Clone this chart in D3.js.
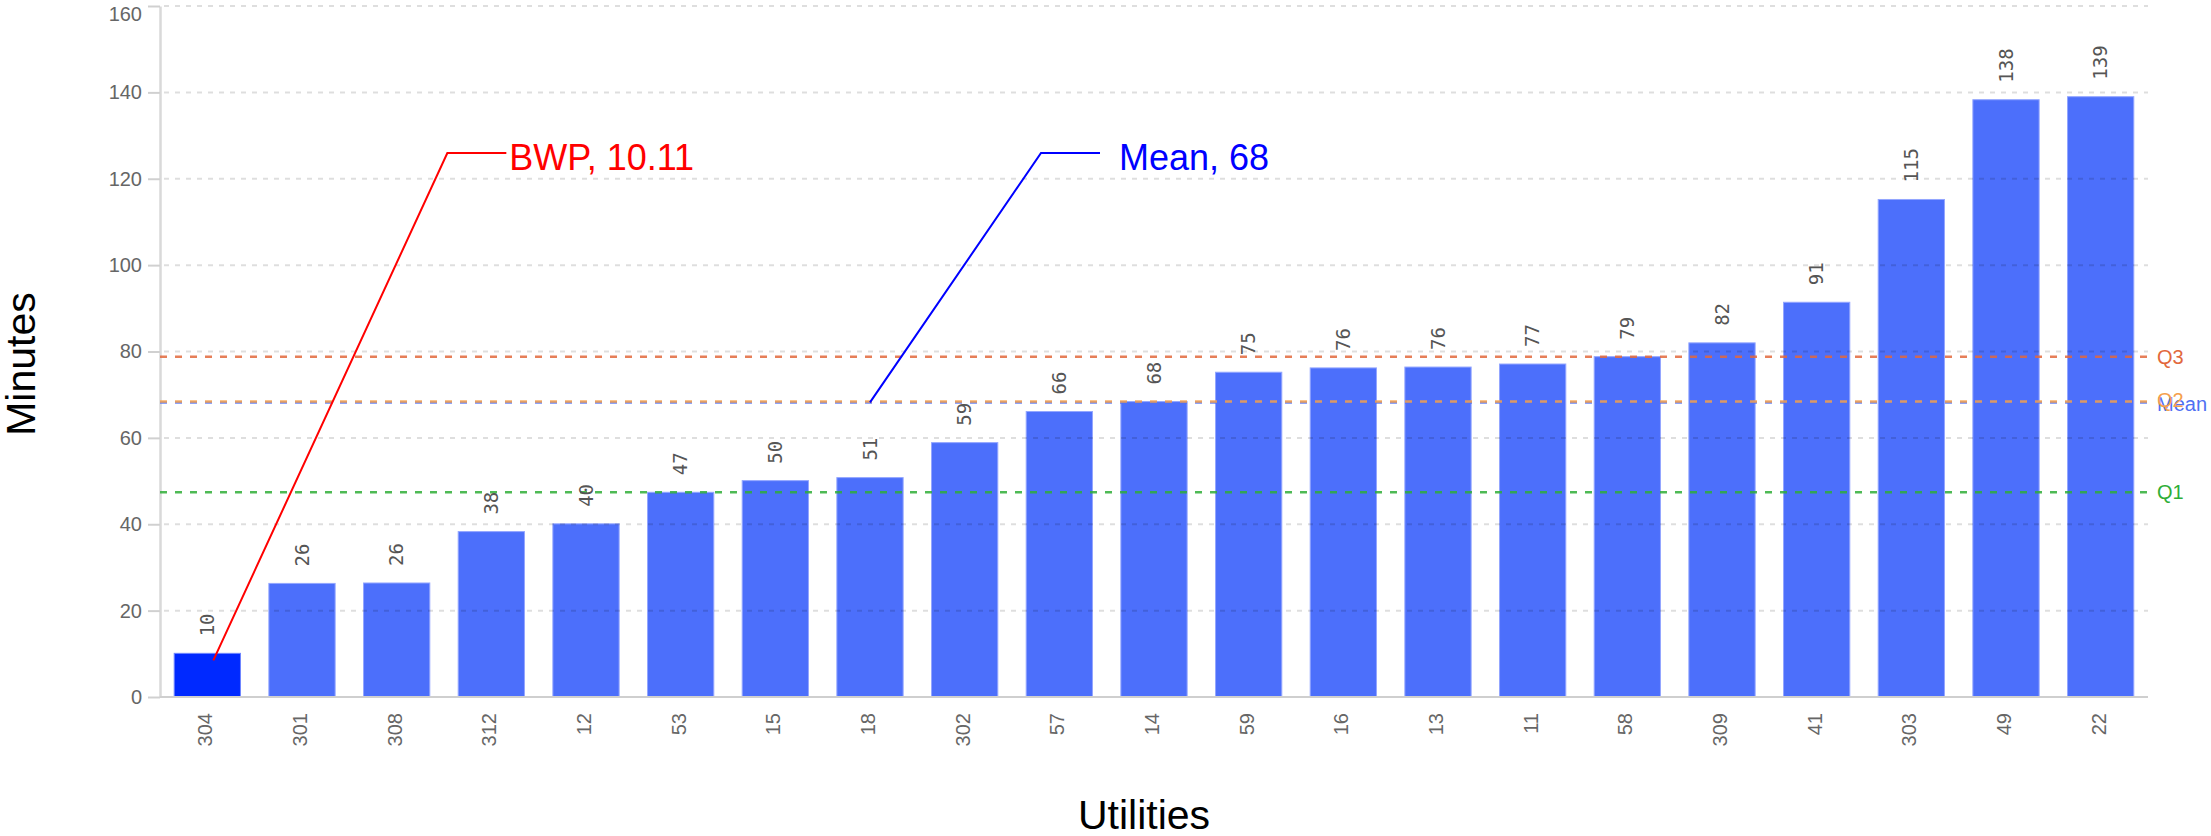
<!DOCTYPE html>
<html>
<head>
<meta charset="utf-8">
<script src="https://cdn.jsdelivr.net/npm/d3@7"></script>
<style>
  html, body { margin: 0; padding: 0; background: #fff; }
  svg { display: block; }
</style>
</head>
<body>
<svg id="chart" width="2211" height="836"></svg>
<script>
// Utility identifiers, sorted by minutes
const utilities = ["304", "301", "308", "312", "12", "53", "15", "18", "302", "57", "14",
                   "59", "16", "13", "11", "58", "309", "41", "303", "49", "22"];
const minutes = [10.11, 26.3, 26.4, 38.3, 40.1, 47.4, 50.1, 50.8, 58.9, 66.1, 68.4,
                 75.2, 76.2, 76.4, 77.1, 78.8, 82.0, 91.4, 115.2, 138.3, 139.0];
const yTicks = [0, 20, 40, 60, 80, 100, 120, 140, 160];
const highlighted = "304";
const benchmarkName = "BWP";

const W = 2211, H = 836;
const plot = { left: 160, right: 2148, top: 6, bottom: 697 };

const svg = d3.select("#chart");

const x = d3.scaleBand()
  .domain(utilities)
  .range([plot.left, plot.right])
  .paddingInner(0.3)
  .paddingOuter(0.15);

const y = d3.scaleLinear()
  .domain([0, 160])
  .range([plot.bottom, plot.top]);

const sorted = minutes.slice().sort(d3.ascending);
const stats = [
  { key: "Q3",   value: d3.quantile(sorted, 0.75), color: "#e2683c", dy: 0 },
  { key: "Mean", value: d3.mean(minutes),          color: "#4f70f2", dy: 2 },
  { key: "Q2",   value: d3.quantile(sorted, 0.5),  color: "#f5a04c", dy: -2 },
  { key: "Q1",   value: d3.quantile(sorted, 0.25), color: "#2fae37", dy: 0 }
];
const meanValue = d3.mean(minutes);
const fmt0 = d3.format(".0f");

// Bars
svg.append("g")
  .selectAll("rect")
  .data(utilities)
  .join("rect")
  .attr("x", d => x(d))
  .attr("width", x.bandwidth())
  .attr("y", (d, i) => y(minutes[i]))
  .attr("height", (d, i) => y(0) - y(minutes[i]))
  .attr("fill", d => d === highlighted ? "#0029ff" : "#4c6ffb")
  .attr("stroke", d => d === highlighted ? "#6f86ff" : "#93a6ff")
  .attr("stroke-width", 1);

// Horizontal grid (drawn over the bars, translucent)
svg.append("g")
  .selectAll("line")
  .data(yTicks.filter(t => t > 0))
  .join("line")
  .attr("x1", plot.left + 4)
  .attr("x2", plot.right)
  .attr("y1", d => y(d))
  .attr("y2", d => y(d))
  .attr("stroke", "#000")
  .attr("stroke-opacity", 0.13)
  .attr("stroke-width", 2)
  .attr("stroke-dasharray", "5,6");

// Y axis
const yAxis = svg.append("g")
  .attr("transform", `translate(${plot.left},0)`)
  .call(d3.axisLeft(y).tickValues(yTicks).tickSize(12).tickPadding(6).tickSizeOuter(0));
yAxis.select(".domain").attr("stroke", "#d9d9d9").attr("stroke-width", 2.5);
yAxis.selectAll(".tick line").attr("stroke", "#d0d0d0").attr("stroke-width", 2);
yAxis.selectAll(".tick text")
  .attr("fill", "#666")
  .style("font-family", "'Liberation Sans', Arial, sans-serif")
  .style("font-size", "20px");
// keep the top label inside the frame
yAxis.selectAll(".tick text")
  .filter(d => d === 160)
  .attr("y", 8.5);

// X axis baseline
svg.append("line")
  .attr("x1", plot.left).attr("x2", plot.right)
  .attr("y1", y(0)).attr("y2", y(0))
  .attr("stroke", "#cfcfcf").attr("stroke-width", 2);

// X tick labels (rotated)
svg.append("g")
  .selectAll("text")
  .data(utilities)
  .join("text")
  .attr("transform", d => `translate(${x(d) + x.bandwidth() / 2 - 2},713) rotate(-90)`)
  .attr("text-anchor", "end")
  .attr("dy", "0.35em")
  .attr("fill", "#666")
  .style("font-family", "'Liberation Sans', Arial, sans-serif")
  .style("font-size", "20px")
  .text(d => d);

// Quartile / mean reference lines
svg.append("g")
  .selectAll("line")
  .data(stats)
  .join("line")
  .attr("x1", plot.left)
  .attr("x2", plot.right)
  .attr("y1", d => y(d.value))
  .attr("y2", d => y(d.value))
  .attr("stroke", d => d.color)
  .attr("stroke-opacity", 0.85)
  .attr("stroke-width", 2.5)
  .attr("stroke-dasharray", "7,8");

svg.append("g")
  .selectAll("text")
  .data(stats)
  .join("text")
  .attr("x", plot.right + 9)
  .attr("y", d => y(d.value) + d.dy)
  .attr("dy", "0.35em")
  .attr("fill", d => d.color)
  .style("font-family", "'Liberation Sans', Arial, sans-serif")
  .style("font-size", "20px")
  .text(d => d.key);

// Value labels above bars (rotated)
svg.append("g")
  .selectAll("text")
  .data(utilities)
  .join("text")
  .attr("transform", (d, i) => `translate(${x(d) + x.bandwidth() / 2},${y(minutes[i]) - 17}) rotate(-90)`)
  .attr("text-anchor", "start")
  .attr("dy", "0.35em")
  .attr("fill", "#555")
  .style("font-family", "'DejaVu Sans Mono', 'Liberation Mono', monospace")
  .style("font-size", "19px")
  .text((d, i) => fmt0(minutes[i]));

// Call-out annotations
const hiIndex = utilities.indexOf(highlighted);
const callouts = [
  {
    text: `${benchmarkName}, ${minutes[hiIndex]}`,
    color: "#ff0000",
    ax: x(highlighted) + x.bandwidth() / 2 + 6,
    ay: y(minutes[hiIndex]) + 7,
    elbowY: 153, elbowDx: 234, tail: 59, gap: 3
  },
  {
    text: `Mean, ${fmt0(meanValue)}`,
    color: "#0000ff",
    ax: x("18") + x.bandwidth() / 2,
    ay: y(meanValue),
    elbowY: 153, elbowDx: 171, tail: 59, gap: 19
  }
];

const cg = svg.append("g");
callouts.forEach(c => {
  const ex = c.ax + c.elbowDx;
  cg.append("path")
    .attr("d", d3.line()([[c.ax, c.ay], [ex, c.elbowY], [ex + c.tail, c.elbowY]]))
    .attr("fill", "none")
    .attr("stroke", c.color)
    .attr("stroke-width", 2);
  cg.append("text")
    .attr("x", ex + c.tail + c.gap)
    .attr("y", c.elbowY + 17)
    .attr("fill", c.color)
    .style("font-family", "'Liberation Sans', Arial, sans-serif")
    .style("font-size", "36px")
    .text(c.text);
});

// Axis titles
svg.append("text")
  .attr("transform", "translate(35,364) rotate(-90)")
  .attr("text-anchor", "middle")
  .attr("fill", "#000")
  .style("font-family", "'Liberation Sans', Arial, sans-serif")
  .style("font-size", "41px")
  .text("Minutes");

svg.append("text")
  .attr("x", 1144)
  .attr("y", 829)
  .attr("text-anchor", "middle")
  .attr("fill", "#000")
  .style("font-family", "'Liberation Sans', Arial, sans-serif")
  .style("font-size", "41px")
  .text("Utilities");
</script>
</body>
</html>
